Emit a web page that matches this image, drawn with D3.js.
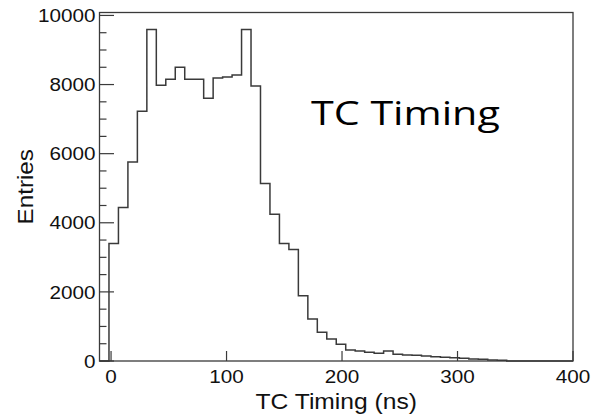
<!DOCTYPE html>
<html>
<head>
<meta charset="utf-8">
<script src="https://cdn.jsdelivr.net/npm/d3@7"></script>
<style>
  html, body { margin: 0; padding: 0; background: #fff; }
  svg { display: block; }
</style>
</head>
<body>
<svg id="chart" width="591" height="420"></svg>
<script>
// ---- data ----
const xRange = [-10, 400];
const binWidth = 8.2;
const counts = [0, 3400, 4440, 5760, 7225, 9590, 7980, 8150, 8500, 8150,
                8150, 7600, 8190, 8220, 8275, 9590, 7960, 5135, 4250, 3400,
                3230, 1890, 1214, 830, 636, 483, 318, 289, 251, 222,
                289, 193, 173, 165, 145, 125, 106, 96, 77, 58,
                48, 29, 20, 0, 0, 0, 0, 0, 0, 0];
const yMax = 10085;
const xTicks = [0, 100, 200, 300, 400];
const yMajorTicks = [0, 2000, 4000, 6000, 8000, 10000];
const yMinorTicks = d3.range(0, 10001, 500);
const xTitle = "TC Timing (ns)";
const yTitle = "Entries";
const annotation = "TC Timing";

// ---- layout ----
const svg = d3.select("#chart");
const L = 99.5, R = 573, T = 12.5, B = 361;
const x = d3.scaleLinear().domain(xRange).range([L, R]);
const y = d3.scaleLinear().domain([0, yMax]).range([B, T]);
const lineColor = "#3a3a3a";
const axisFont = "'Liberation Sans', Arial, Helvetica, sans-serif";

// histogram step path
const pts = [];
counts.forEach((c, i) => {
  const x0 = xRange[0] + i * binWidth;
  pts.push([x0, c]);
  pts.push([x0 + binWidth, c]);
});
svg.append("path")
  .attr("d", d3.line().x(d => x(d[0])).y(d => y(d[1]))(pts))
  .attr("fill", "none")
  .attr("stroke", lineColor)
  .attr("stroke-width", 1.5);

// frame
svg.append("rect")
  .attr("x", L).attr("y", T).attr("width", R - L).attr("height", B - T)
  .attr("fill", "none").attr("stroke", lineColor).attr("stroke-width", 1.3);

// y ticks
svg.append("g").selectAll("line").data(yMinorTicks).join("line")
  .attr("x1", L).attr("x2", d => L + (d % 2000 === 0 ? 14.5 : 7))
  .attr("y1", d => y(d)).attr("y2", d => y(d))
  .attr("stroke", lineColor).attr("stroke-width", 1.2);
svg.append("g").selectAll("text").data(yMajorTicks).join("text")
  .attr("transform", d => `translate(${L - 4},${y(d)}) scale(1.09,1)`)
  .attr("dy", "0.35em")
  .attr("text-anchor", "end")
  .attr("font-family", axisFont).attr("font-size", 19)
  .attr("fill", "#111")
  .text(d => d);

// x ticks
svg.append("g").selectAll("line").data(xTicks).join("line")
  .attr("x1", d => x(d)).attr("x2", d => x(d))
  .attr("y1", B).attr("y2", B - 10)
  .attr("stroke", lineColor).attr("stroke-width", 1.2);
svg.append("g").selectAll("text").data(xTicks).join("text")
  .attr("transform", d => `translate(${x(d)},${B + 22}) scale(1.09,1)`)
  .attr("text-anchor", "middle")
  .attr("font-family", axisFont).attr("font-size", 19)
  .attr("fill", "#111")
  .text(d => d);

// axis titles
svg.append("text")
  .attr("transform", `translate(${(L + R) / 2},408.5) scale(1.12,1)`)
  .attr("text-anchor", "middle")
  .attr("font-family", axisFont).attr("font-size", 22)
  .attr("fill", "#111")
  .text(xTitle);
svg.append("text")
  .attr("transform", `translate(33,${(T + B) / 2}) rotate(-90) scale(1.1,1)`)
  .attr("text-anchor", "middle")
  .attr("font-family", axisFont).attr("font-size", 22)
  .attr("fill", "#111")
  .text(yTitle);

// annotation
svg.append("text")
  .attr("transform", "translate(311,125) scale(1.25,1)")
  .attr("font-family", "'Open Sans', sans-serif").attr("font-size", 33)
  .attr("fill", "#000")
  .text(annotation);
</script>
</body>
</html>
